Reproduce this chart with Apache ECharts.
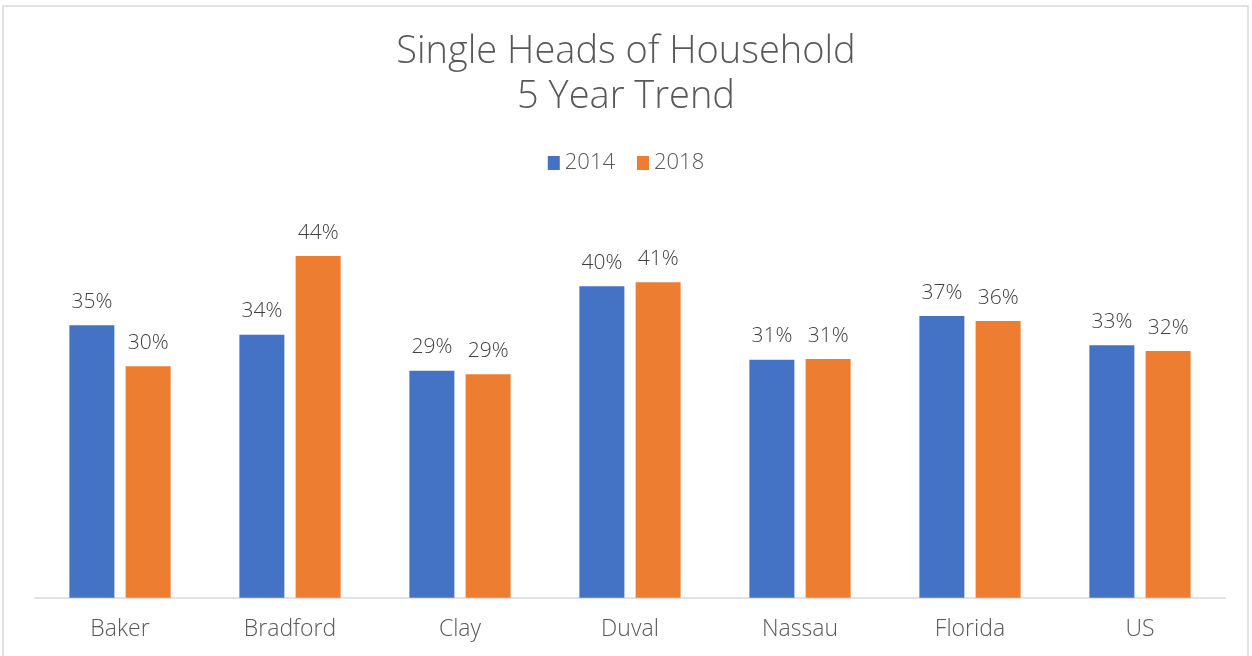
<!DOCTYPE html>
<html>
<head>
<meta charset="utf-8">
<script src="https://cdn.jsdelivr.net/npm/echarts@6/dist/echarts.min.js"></script>
<style>
  html, body { margin: 0; padding: 0; background: #fff; }
  #chart { width: 1252px; height: 656px; }
</style>
</head>
<body>
<div id="chart"></div>
<script>
    'use strict';

    // categories and the two survey years
    var categories = ['Baker', 'Bradford', 'Clay', 'Duval', 'Nassau', 'Florida', 'US'];
    var values2014 = [0.3535, 0.3413, 0.2946, 0.4042, 0.3089, 0.3656, 0.3276];
    var values2018 = [0.3003, 0.4435, 0.2899, 0.4094, 0.3098, 0.3591, 0.3202];

    var FONT = '"Open Sans", Lato, sans-serif';

    var chart = echarts.init(document.getElementById('chart'));

    var pct = function(p) {
        return Math.round(p.value * 100) + '%';
    };

    var barLabel = {
        show: true,
        position: 'top',
        distance: 13,
        formatter: pct,
        color: '#404040',
        fontSize: 21,
        fontWeight: 300,
        fontFamily: FONT
    };

    chart.setOption({
        backgroundColor: '#fff',
        animation: false,
        title: {
            text: 'Single Heads of Household\n5 Year Trend',
            left: 'center',
            top: 25,
            textStyle: {
                color: '#595959',
                fontSize: 38,
                fontWeight: 300,
                lineHeight: 45,
                fontFamily: FONT
            }
        },
        legend: {
            top: 147,
            left: 'center',
            itemWidth: 12,
            itemHeight: 14,
            itemGap: 22,
            icon: 'rect',
            textStyle: { color: '#595959', fontSize: 22, fontWeight: 300, fontFamily: FONT }
        },
        graphic: [{
            type: 'rect',
            shape: { x: 3, y: 6, width: 1245, height: 670 },
            style: { fill: 'none', stroke: '#d9d9d9', lineWidth: 1.5 },
            silent: true
        }],
        grid: { left: 35, right: 27, top: 212.5, bottom: 58.3 },
        xAxis: {
            type: 'category',
            data: categories,
            axisLine: { lineStyle: { color: '#d9d9d9', width: 1.5 } },
            axisTick: { show: false },
            axisLabel: { color: '#595959', fontSize: 23, fontWeight: 300, margin: 20, fontFamily: FONT }
        },
        yAxis: {
            type: 'value',
            min: 0,
            max: 0.5,
            interval: 0.1,
            show: false,
            splitLine: { show: false }
        },
        series: [
            {
                name: '2014',
                type: 'bar',
                data: values2014,
                barWidth: 45,
                barGap: '25%',
                itemStyle: { color: '#4472C4' },
                label: barLabel
            },
            {
                name: '2018',
                type: 'bar',
                data: values2018,
                barWidth: 45,
                itemStyle: { color: '#ED7D31' },
                label: barLabel
            }
        ]
    });
</script>
</body>
</html>
